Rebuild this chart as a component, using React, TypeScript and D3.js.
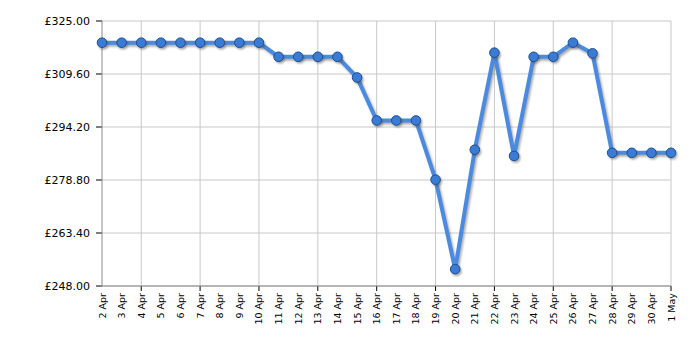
import React from "react";
import * as d3 from "d3";

const dates = [
  "2 Apr","3 Apr","4 Apr","5 Apr","6 Apr","7 Apr","8 Apr","9 Apr","10 Apr","11 Apr",
  "12 Apr","13 Apr","14 Apr","15 Apr","16 Apr","17 Apr","18 Apr","19 Apr","20 Apr","21 Apr",
  "22 Apr","23 Apr","24 Apr","25 Apr","26 Apr","27 Apr","28 Apr","29 Apr","30 Apr","1 May",
];
const prices = [
  318.7,318.7,318.7,318.7,318.7,318.7,318.7,318.7,318.7,314.6,
  314.6,314.6,314.6,308.6,296.1,296.1,296.1,278.9,252.9,287.6,
  315.8,285.8,314.6,314.6,318.7,315.6,286.7,286.7,286.7,286.7,
];
const yTicks = [248.0, 263.4, 278.8, 294.2, 309.6, 325.0];
const gridEvery = 3;

export default function App() {
  const W = 700, H = 350;
  const left = 102, right = 671, top = 21, bottom = 286;
  const x = d3.scaleLinear().domain([0, dates.length - 1]).range([left, right]);
  const y = d3.scaleLinear().domain([248, 325]).range([bottom, top]);
  const line = d3.line<number>().x((_, i) => x(i)).y((d) => y(d));
  const path = line(prices) || "";
  const gridIdx = dates.map((_, i) => i).filter((i) => (dates.length - 1 - i) % gridEvery === 0);
  const font = "'DejaVu Sans', Verdana, sans-serif";
  return (
    <svg width={W} height={H} style={{ position: "absolute", left: 0, top: 0, background: "#fff" }}>
      <defs>
        <filter id="blur" x="-10%" y="-10%" width="120%" height="120%">
          <feGaussianBlur stdDeviation="1" />
        </filter>
      </defs>
      {yTicks.map((t) => (
        <g key={t}>
          <line x1={left} x2={right} y1={y(t)} y2={y(t)} stroke="#c8c8c8" strokeWidth={1} />
          <line x1={left - 6} x2={left} y1={y(t)} y2={y(t)} stroke="#000" strokeWidth={1} />
          <text x={left - 12} y={y(t)} dy="0.36em" textAnchor="end" fontFamily={font} fontSize={11} fill="#000">
            £{t.toFixed(2)}
          </text>
        </g>
      ))}
      {gridIdx.map((i) => (
        <g key={i}>
          <line x1={x(i)} x2={x(i)} y1={top} y2={bottom} stroke="#c8c8c8" strokeWidth={1} />
          <line x1={x(i)} x2={x(i)} y1={bottom} y2={bottom + 5} stroke="#000" strokeWidth={1} />
        </g>
      ))}
      <line x1={left} x2={left} y1={top} y2={bottom} stroke="#888" strokeWidth={1} />
      <line x1={left} x2={right} y1={bottom} y2={bottom} stroke="#888" strokeWidth={1} />
      {dates.map((d, i) => (
        <text
          key={d}
          transform={`translate(${x(i) + 3.5},${bottom + 7}) rotate(-90)`}
          textAnchor="end"
          fontFamily={font}
          fontSize={9.5}
          fill="#000"
        >
          {d}
        </text>
      ))}
      <path d={path} transform="translate(1.5,2)" fill="none" stroke="#777" strokeOpacity={0.6} strokeWidth={4} filter="url(#blur)" />
      <path d={path} fill="none" stroke="#4a8ae0" strokeWidth={4} strokeLinejoin="round" />
      {prices.map((p, i) => (
        <circle key={"s" + i} cx={x(i) + 1.5} cy={y(p) + 2} r={5} fill="#555" opacity={0.5} filter="url(#blur)" />
      ))}
      {prices.map((p, i) => (
        <circle key={i} cx={x(i)} cy={y(p)} r={4.8} fill="#3a7bd5" stroke="#1d4e8f" strokeWidth={1} />
      ))}
    </svg>
  );
}
